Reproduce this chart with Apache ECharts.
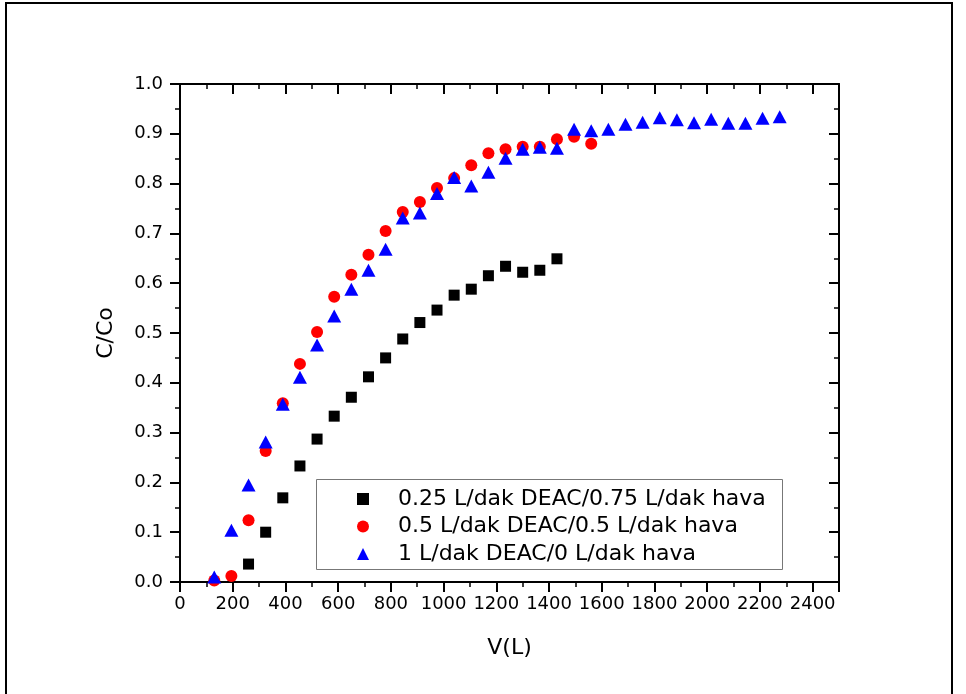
<!DOCTYPE html>
<html>
<head>
<meta charset="utf-8">
<script src="https://cdn.jsdelivr.net/npm/echarts@6/dist/echarts.min.js"></script>
<style>
html,body{margin:0;padding:0;background:#fff;}
#chart{width:966px;height:694px;}
</style>
</head>
<body>
<div id="chart"></div>
<script>
// Series names
const seriesNames = [
  '0.25 L/dak DEAC/0.75 L/dak hava',
  '0.5 L/dak DEAC/0.5 L/dak hava',
  '1 L/dak DEAC/0 L/dak hava'
];

// 0.25 L/dak DEAC / 0.75 L/dak hava (black squares)
const vBlack = [260, 325, 390, 455, 520, 585, 650, 715, 780, 845, 910, 975, 1040, 1105, 1170, 1235, 1300, 1365, 1430];
const cBlack = [0.036, 0.100, 0.169, 0.233, 0.287, 0.333, 0.371, 0.412, 0.450, 0.488, 0.521, 0.546, 0.576, 0.588, 0.615, 0.634, 0.622, 0.626, 0.649];

// 0.5 L/dak DEAC / 0.5 L/dak hava (red circles)
const vRed = [130, 195, 260, 325, 390, 455, 520, 585, 650, 715, 780, 845, 910, 975, 1040, 1105, 1170, 1235, 1300, 1365, 1430, 1495, 1560];
const cRed = [0.003, 0.012, 0.124, 0.263, 0.359, 0.438, 0.502, 0.573, 0.617, 0.657, 0.705, 0.743, 0.763, 0.791, 0.811, 0.837, 0.861, 0.869, 0.874, 0.874, 0.889, 0.894, 0.880];

// 1 L/dak DEAC / 0 L/dak hava (blue triangles)
const vBlue = [130, 195, 260, 325, 390, 455, 520, 585, 650, 715, 780, 845, 910, 975, 1040, 1105, 1170, 1235, 1300, 1365, 1430, 1495, 1560, 1625, 1690, 1755, 1820, 1885, 1950, 2015, 2080, 2145, 2210, 2275];
const cBlue = [0.010, 0.104, 0.195, 0.281, 0.357, 0.411, 0.476, 0.534, 0.588, 0.626, 0.668, 0.731, 0.741, 0.780, 0.812, 0.795, 0.823, 0.851, 0.869, 0.873, 0.871, 0.909, 0.906, 0.909, 0.919, 0.923, 0.932, 0.928, 0.922, 0.929, 0.921, 0.921, 0.931, 0.934];

// Axis settings
const xMin = 0, xMax = 2500, xMajor = 200, xMinor = 100;
const yMin = 0, yMax = 1.0, yMajor = 0.1;
const xTitle = 'V(L)';
const yTitle = 'C/Co';

function pairs(xs, ys) { return xs.map((x, i) => [x, ys[i]]); }

const FONT = 'DejaVu Sans';
const chart = echarts.init(document.getElementById('chart'), null, {renderer: 'canvas'});

const lineStyleAxis = {color: '#000', width: 2};
const baseX = {
  type: 'value', min: xMin, max: xMax, gridIndex: 0,
  splitLine: {show: false},
  axisLine: {onZero: false, lineStyle: lineStyleAxis}
};
const baseY = {
  type: 'value', min: yMin, max: yMax, interval: yMajor, gridIndex: 0,
  splitLine: {show: false},
  axisLine: {onZero: false, lineStyle: lineStyleAxis}
};

chart.setOption({
  animation: false,
  backgroundColor: '#fff',
  grid: {left: 180, right: 127, top: 84, bottom: 112, containLabel: false},
  xAxis: [
    Object.assign({}, baseX, {
      position: 'bottom', interval: xMinor,
      axisTick: {show: true, inside: false, length: 5, lineStyle: {color: '#000', width: 1.5}},
      axisLabel: {
        show: true, margin: 13, color: '#000', fontFamily: FONT, fontSize: 18,
        formatter: v => (Math.round(v) % xMajor === 0 ? String(Math.round(v)) : '')
      },
      name: xTitle, nameLocation: 'middle', nameGap: 55,
      nameTextStyle: {color: '#000', fontFamily: FONT, fontSize: 22}
    }),
    Object.assign({}, baseX, {
      position: 'bottom', interval: xMajor,
      axisLine: {show: false, onZero: false},
      axisTick: {show: true, inside: false, length: 10, lineStyle: {color: '#000', width: 2}},
      axisLabel: {show: false}
    }),
    Object.assign({}, baseX, {
      position: 'top', interval: xMinor,
      axisTick: {show: true, inside: true, length: 5, lineStyle: {color: '#000', width: 1.5}},
      axisLabel: {show: false}
    }),
    Object.assign({}, baseX, {
      position: 'top', interval: xMajor,
      axisLine: {show: false, onZero: false},
      axisTick: {show: true, inside: true, length: 10, lineStyle: {color: '#000', width: 2}},
      axisLabel: {show: false}
    })
  ],
  yAxis: [
    Object.assign({}, baseY, {
      position: 'left',
      axisTick: {show: true, inside: false, length: 10, lineStyle: {color: '#000', width: 2}},
      minorTick: {show: true, splitNumber: 2, length: 5, lineStyle: {color: '#000', width: 1.5}},
      axisLabel: {
        show: true, margin: 17, color: '#000', fontFamily: FONT, fontSize: 18,
        formatter: v => v.toFixed(1)
      },
      name: yTitle, nameLocation: 'middle', nameGap: 63, nameRotate: 90,
      nameTextStyle: {color: '#000', fontFamily: FONT, fontSize: 22}
    }),
    Object.assign({}, baseY, {
      position: 'right',
      axisTick: {show: true, inside: true, length: 10, lineStyle: {color: '#000', width: 2}},
      minorTick: {show: true, splitNumber: 2, length: 5, lineStyle: {color: '#000', width: 1.5}},
      axisLabel: {show: false}
    })
  ],
  legend: {
    orient: 'vertical',
    left: 357, top: 488, padding: 0,
    itemWidth: 12, itemHeight: 12, itemGap: 5.5,
    selectedMode: false,
    textStyle: {color: '#000', fontFamily: FONT, fontSize: 22, lineHeight: 22, padding: [0, 0, 0, 24]},
    data: [
      {name: seriesNames[0], icon: 'rect'},
      {name: seriesNames[1], icon: 'circle'},
      {name: seriesNames[2], icon: 'triangle'}
    ]
  },
  graphic: [
    {
      type: 'rect', silent: true, z: 0,
      shape: {x: 316.5, y: 479.5, width: 466, height: 90},
      style: {fill: 'none', stroke: '#777', lineWidth: 1}
    },
    {
      type: 'rect', silent: true, z: 0,
      shape: {x: 6, y: 3, width: 946, height: 720},
      style: {fill: 'none', stroke: '#000', lineWidth: 2}
    }
  ],
  series: [
    {
      name: seriesNames[0], type: 'scatter', xAxisIndex: 0, yAxisIndex: 0,
      symbol: 'rect', symbolSize: 11,
      itemStyle: {color: '#000000', opacity: 1},
      data: pairs(vBlack, cBlack)
    },
    {
      name: seriesNames[1], type: 'scatter', xAxisIndex: 0, yAxisIndex: 0,
      symbol: 'circle', symbolSize: 12,
      itemStyle: {color: '#ff0000', opacity: 1},
      data: pairs(vRed, cRed)
    },
    {
      name: seriesNames[2], type: 'scatter', xAxisIndex: 0, yAxisIndex: 0,
      symbol: 'triangle', symbolSize: [14, 13],
      itemStyle: {color: '#0000ff', opacity: 1},
      data: pairs(vBlue, cBlue)
    }
  ]
});
</script>
</body>
</html>
